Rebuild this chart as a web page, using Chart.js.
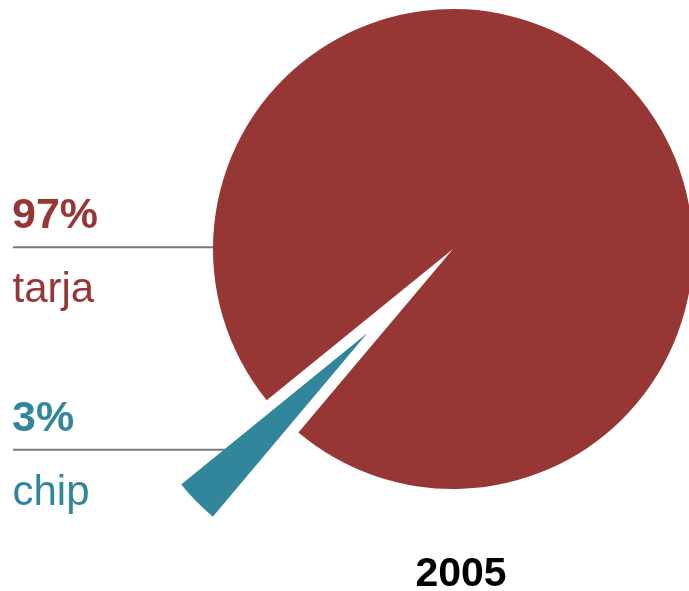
<!DOCTYPE html>
<html>
<head>
<meta charset="utf-8">
<script src="https://cdn.jsdelivr.net/npm/chart.js@4/dist/chart.umd.min.js"></script>
<style>
  html, body { margin: 0; padding: 0; background: #fff; }
  #wrap { width: 689px; height: 591px; position: relative; }
</style>
</head>
<body>
<div id="wrap"><canvas id="pie"></canvas></div>
<script>
const categories = ["tarja", "chip"];
const shares = [97, 3];
const year = "2005";

const colors = ["#963735", "#32869c"];
const FONT = "'Liberation Sans', Arial, sans-serif";

// pull the small slice out along its bisector, keeping the same radius
const explodePlugin = {
  id: "explode",
  afterDatasetsUpdate(chart) {
    const arc = chart.getDatasetMeta(0).data[1];
    const mid = (arc.startAngle + arc.endAngle) / 2;
    arc.x += Math.cos(mid) * 120;
    arc.y += Math.sin(mid) * 120;
  },
};

// left side labels: percentage, rule, category name
const labelPlugin = {
  id: "sideLabels",
  beforeDatasetsDraw(chart) {
    const ctx = chart.ctx;
    const pie = chart.getDatasetMeta(0).data[0];
    const tops = [228, 430.5];
    const lineEnds = [pie.x - pie.outerRadius + 6, 245];
    ctx.save();
    categories.forEach((name, i) => {
      const y = tops[i];
      ctx.strokeStyle = "#787878";
      ctx.lineWidth = 2;
      ctx.beginPath();
      ctx.moveTo(13, y + 19.3);
      ctx.lineTo(lineEnds[i], y + 19.3);
      ctx.stroke();

      ctx.fillStyle = colors[i];
      ctx.textAlign = "left";
      ctx.textBaseline = "alphabetic";
      ctx.font = "bold 43px " + FONT;
      ctx.fillText(shares[i] + "%", 12, y);
      ctx.font = "42px " + FONT;
      ctx.fillText(name, 12.5, y + 74.3);
    });

    ctx.fillStyle = "#000";
    ctx.textAlign = "center";
    ctx.font = "bold 41px " + FONT;
    ctx.fillText(year, 461, 586);
    ctx.restore();
  },
};

new Chart(document.getElementById("pie"), {
  type: "pie",
  data: {
    labels: categories,
    datasets: [
      {
        data: shares,
        backgroundColor: colors,
        borderWidth: 0,
        clip: false,
      },
    ],
  },
  options: {
    responsive: true,
    maintainAspectRatio: false,
    animation: false,
    events: [],
    radius: 240,
    rotation: 230.9,
    layout: { padding: { left: 217, right: 0, top: 0, bottom: 93 } },
    plugins: {
      legend: { display: false },
      tooltip: { enabled: false },
    },
  },
  plugins: [explodePlugin, labelPlugin],
});
</script>
</body>
</html>
